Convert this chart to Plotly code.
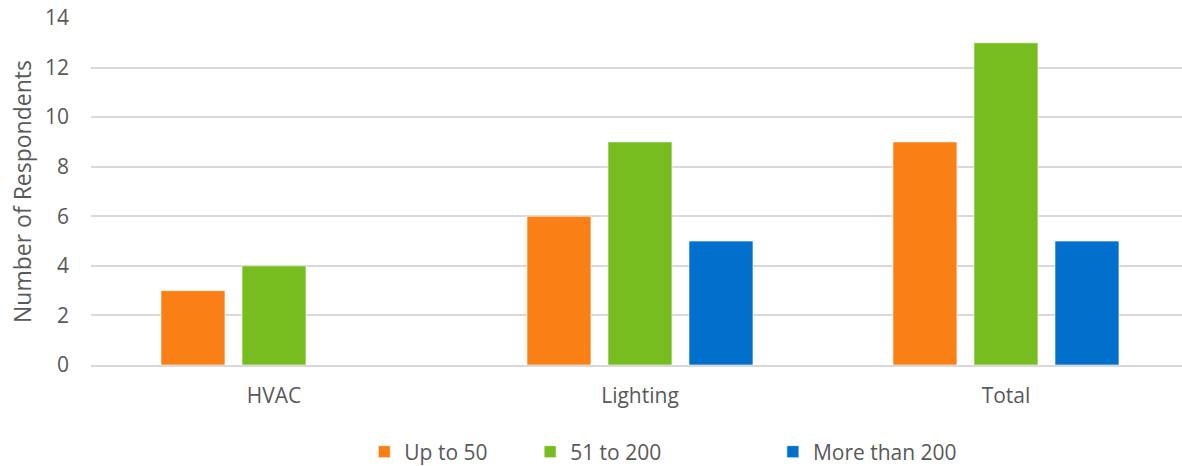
import plotly.graph_objects as go

categories = ["HVAC", "Lighting", "Total"]
up_to_50 = [3, 6, 9]
from_51_to_200 = [4, 9, 13]
more_than_200 = [None, 5, 5]

series = [
    ("Up to 50", up_to_50, "#FA7F14", "legend"),
    ("51 to 200", from_51_to_200, "#78BD20", "legend2"),
    ("More than 200", more_than_200, "#0070CC", "legend3"),
]

FONT = "Open Sans"
TEXT = "#595959"

fig = go.Figure()
for name, vals, color, leg in series:
    fig.add_trace(go.Bar(
        x=categories, y=vals, name=name, legend=leg, showlegend=True,
        marker=dict(color=color, line=dict(color="rgba(255,255,255,0.6)", width=1)),
    ))

legend_common = dict(
    orientation="h", yref="container", yanchor="middle", y=0.030, xanchor="left",
    font=dict(family=FONT, size=21, color=TEXT), itemwidth=30,
    bgcolor="rgba(0,0,0,0)",
)

fig.update_layout(
    width=1182, height=466,
    margin=dict(l=91, r=0, t=18, b=101),
    paper_bgcolor="white", plot_bgcolor="white",
    showlegend=True,
    barmode="group", bargap=0.336, bargroupgap=0.21,
    font=dict(family=FONT, size=18, color=TEXT),
    legend=dict(legend_common, x=0.2505),
    legend2=dict(legend_common, x=0.4025),
    legend3=dict(legend_common, x=0.625),
    xaxis=dict(
        range=[-0.5, 2.481], showgrid=False, showline=True,
        linecolor="#D9D9D9", linewidth=2, ticks="", ticklabelstandoff=11,
        tickfont=dict(size=21, color=TEXT),
    ),
    yaxis=dict(
        range=[0, 14], dtick=2, showgrid=True, gridcolor="#D9D9D9", gridwidth=2,
        zeroline=False, showline=False, ticks="", ticklabelstandoff=21,
        tickfont=dict(size=21, color=TEXT),
        title=dict(text="Number of Respondents", font=dict(size=23, color=TEXT), standoff=6),
    ),
)

fig.write_html("out.html")
